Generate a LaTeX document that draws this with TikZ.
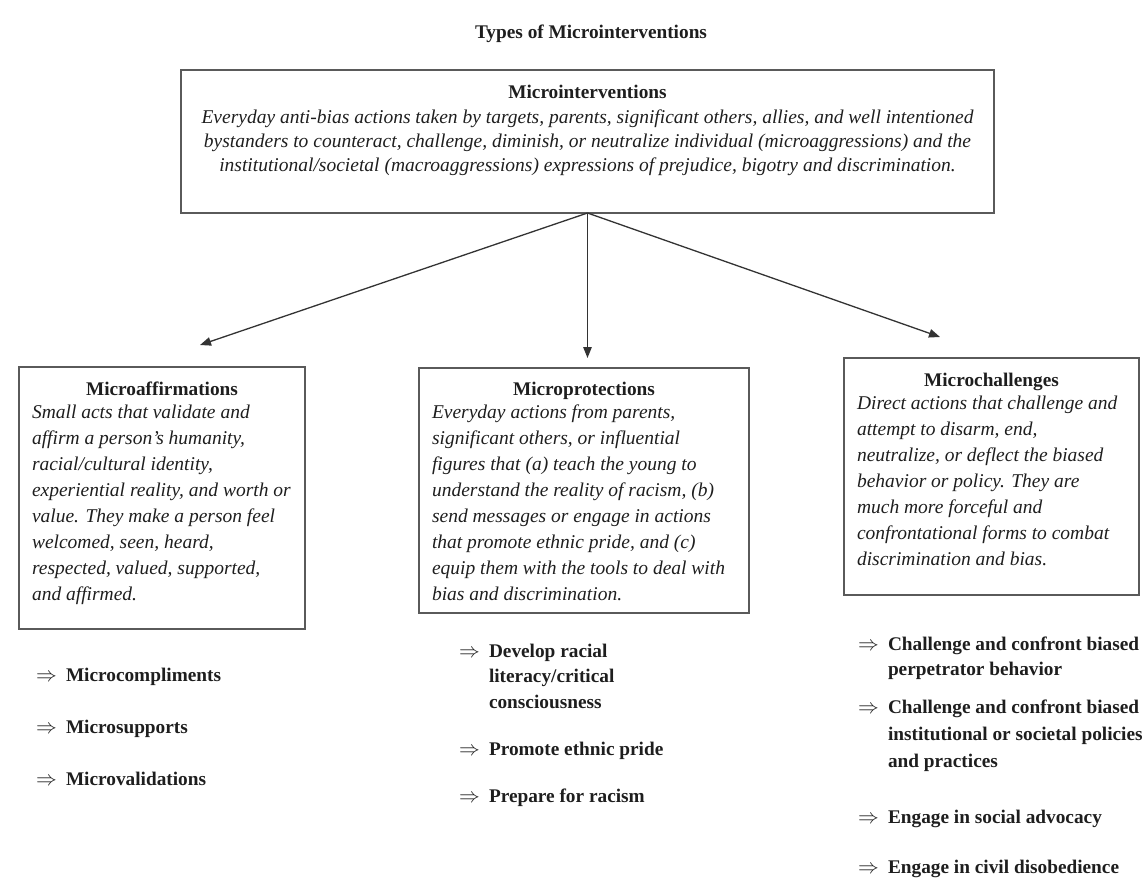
\documentclass[tikz,border=0pt]{standalone}
\usepackage{fontspec}
\usepackage{graphicx}
\setmainfont{Liberation Serif}
\usetikzlibrary{arrows.meta}
\definecolor{ink}{HTML}{1E1E1E}
\definecolor{frame}{HTML}{5A5A5A}
\definecolor{conn}{HTML}{333333}
\newcommand{\blines}[1]{\begin{tabular}[t]{@{}l@{}}#1\end{tabular}}
\newcommand{\clines}[1]{\begin{tabular}[t]{@{}c@{}}#1\end{tabular}}
\newcommand{\bitem}[1]{\makebox[30pt][l]{\scalebox{1.0}{$\Rightarrow$}}\begin{tabular}[t]{@{}l@{}}#1\end{tabular}}
\begin{document}
\begin{tikzpicture}[x=1pt,y=-1pt,
  every node/.style={inner sep=0pt,outer sep=0pt,text=ink},
  box/.style={draw=frame,line width=1.4pt,anchor=north west,fill=none},
  head/.style={font=\fontsize{19.3}{26}\selectfont\bfseries,anchor=base},
  body/.style={font=\fontsize{19.5}{26}\selectfont\itshape,anchor=base west},
  tbody/.style={font=\fontsize{19.5}{24}\selectfont\itshape,anchor=base},
  bul/.style={font=\fontsize{19.3}{25.5}\selectfont\bfseries,anchor=base west},
  bulwide/.style={font=\fontsize{19.3}{27}\selectfont\bfseries,anchor=base west},
  arr/.style={draw=conn,line width=1.3pt,-{Triangle[length=11pt,width=8.5pt]}}]
\useasboundingbox (0,0) rectangle (1147,879);

% title
\node[head] (title) at (591,38) {Types of Microinterventions};

% top box
\node[box,minimum width=813pt,minimum height=143pt] (top) at (181,70) {};
\node[head] (topH) at (587.5,98) {Microinterventions};
\node[tbody] (topB) at (587.5,123) {\clines{Everyday anti-bias actions taken by targets, parents, significant others, allies, and well intentioned\\
bystanders to counteract, challenge, diminish, or neutralize individual (microaggressions) and the\\
institutional/societal (macroaggressions) expressions of prejudice, bigotry and discrimination.}};

% left box
\node[box,minimum width=286pt,minimum height=262pt] (aff) at (19,367) {};
\node[head] (affH) at (162,395) {Microaffirmations};
\node[body] (affB) at (32,418) {\blines{Small acts that validate and\\
affirm a person's humanity,\\
racial/cultural identity,\\
experiential reality, and worth or\\
value. They make a person feel\\
welcomed, seen, heard,\\
respected, valued, supported,\\
and affirmed.}};

% middle box
\node[box,minimum width=330pt,minimum height=245pt] (pro) at (419,368) {};
\node[head] (proH) at (584,395) {Microprotections};
\node[body] (proB) at (432,418) {\blines{Everyday actions from parents,\\
significant others, or influential\\
figures that (a) teach the young to\\
understand the reality of racism, (b)\\
send messages or engage in actions\\
that promote ethnic pride, and (c)\\
equip them with the tools to deal with\\
bias and discrimination.}};

% right box
\node[box,minimum width=295pt,minimum height=237pt] (cha) at (844,358) {};
\node[head] (chaH) at (991.5,386) {Microchallenges};
\node[body] (chaB) at (857,409) {\blines{Direct actions that challenge and\\
attempt to disarm, end,\\
neutralize, or deflect the biased\\
behavior or policy. They are\\
much more forceful and\\
confrontational forms to combat\\
discrimination and bias.}};

% connectors
\coordinate (eL) at (200,345);
\coordinate (eM) at (587.5,358);
\coordinate (eR) at (940,337);
\draw[arr] (top.south) -- (eL);
\draw[arr] (top.south) -- (eM);
\draw[arr] (top.south) -- (eR);

% left bullets
\node[bul] (a1) at (36,681) {\bitem{Microcompliments}};
\node[bul] (a2) at (36,733) {\bitem{Microsupports}};
\node[bul] (a3) at (36,785) {\bitem{Microvalidations}};

% middle bullets
\node[bul] (p1) at (459,657) {\bitem{Develop racial\\ literacy/critical\\ consciousness}};
\node[bul] (p2) at (459,755) {\bitem{Promote ethnic pride}};
\node[bul] (p3) at (459,802) {\bitem{Prepare for racism}};

% right bullets
\node[bul] (c1) at (858,650) {\bitem{Challenge and confront biased\\ perpetrator behavior}};
\node[bulwide] (c2) at (858,713) {\bitem{Challenge and confront biased\\ institutional or societal policies\\ and practices}};
\node[bul] (c3) at (858,823) {\bitem{Engage in social advocacy}};
\node[bul] (c4) at (858,873) {\bitem{Engage in civil disobedience}};
\end{tikzpicture}
\end{document}
